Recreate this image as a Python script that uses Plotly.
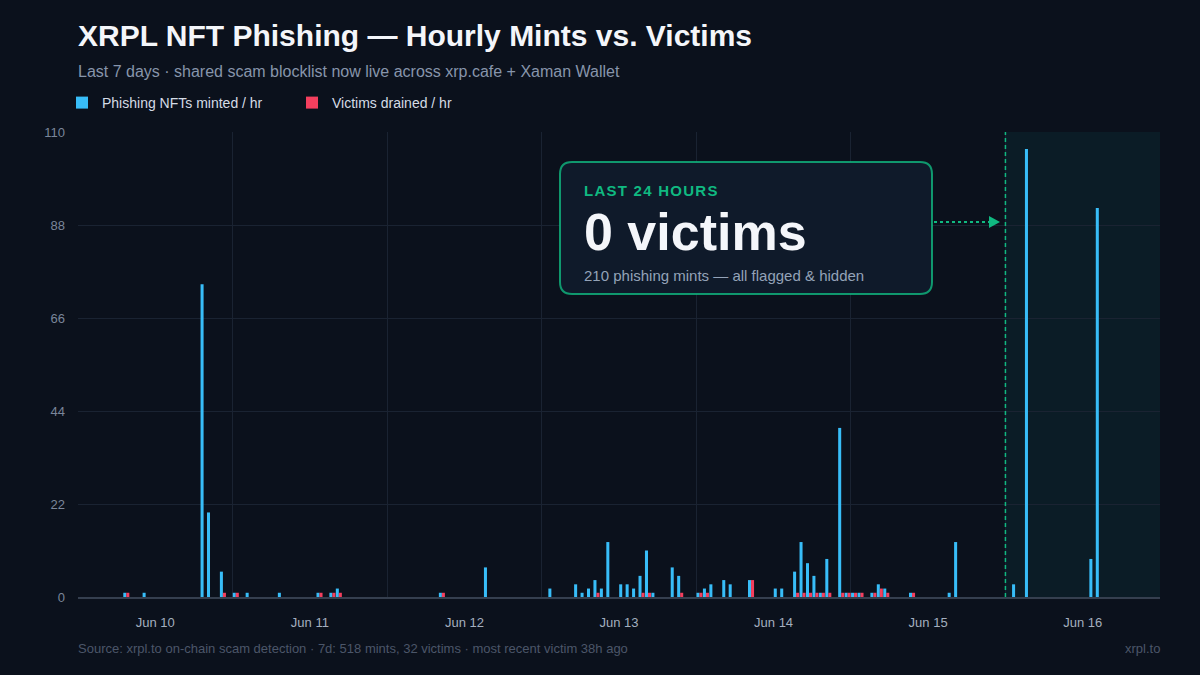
import plotly.graph_objects as go

# ---------------- data (hour index 0 = Jun 10 00:00, 168 hours) ----------------
mint_hours = [7, 10, 19, 20, 22, 24, 26, 31, 37, 39, 40, 56, 63, 73, 77, 78, 79, 80, 81, 82,
              84, 85, 86, 87, 88, 89, 92, 93, 96, 97, 98, 100, 101, 104, 108, 109, 111, 112,
              113, 114, 115, 116, 118, 119, 120, 121, 123, 124, 125, 129, 135, 136,
              145, 147, 157, 158]
mint_counts = [1, 1, 74, 20, 6, 1, 1, 1, 1, 1, 2, 1, 7, 2, 3, 1, 2, 4, 2, 13,
               3, 3, 2, 5, 11, 1, 7, 5, 1, 2, 3, 4, 3, 4, 2, 2, 6, 13,
               8, 5, 1, 9, 40, 1, 1, 1, 1, 3, 2, 1, 1, 13,
               3, 106, 9, 92]
victim_hours = [7, 22, 24, 37, 39, 40, 56, 80, 87, 88, 93, 96, 97, 104, 111, 112, 113, 114,
                115, 116, 118, 119, 120, 121, 123, 124, 125, 129]
victim_counts = [1, 1, 1, 1, 1, 1, 1, 1, 1, 1, 1, 1, 1, 4, 1, 1, 1, 1,
                 1, 1, 1, 1, 1, 1, 1, 2, 1, 1]
day_labels = ["Jun 10", "Jun 11", "Jun 12", "Jun 13", "Jun 14", "Jun 15", "Jun 16"]
y_ticks = [0, 22, 44, 66, 88, 110]
N_HOURS = 168

mints = [0] * N_HOURS
for h, v in zip(mint_hours, mint_counts):
    mints[h] = v
victims = [0] * N_HOURS
for h, v in zip(victim_hours, victim_counts):
    victims[h] = v
x_centers = [h + 0.5 for h in range(N_HOURS)]

# ---------------- styling ----------------
BG = "#0b111c"
GRID = "#1a2332"
BLUE = "#38bdf8"
RED = "#f43f5e"
GREEN = "#10b981"
FONT = "Liberation Sans, Arial, sans-serif"

W, H = 1200, 675
ML, MR, MT, MB = 78, 40, 132, 78
PW, PH = W - ML - MR, H - MT - MB


def px(x):
    return (x - ML) / PW


def py(y):
    return (H - MB - y) / PH


fig = go.Figure()
fig.add_trace(go.Bar(x=x_centers, y=mints, name="Phishing NFTs minted / hr",
                     marker=dict(color=BLUE, line=dict(width=0))))
fig.add_trace(go.Bar(x=x_centers, y=victims, name="Victims drained / hr",
                     marker=dict(color=RED, line=dict(width=0))))

shapes = []
# last 24h shaded band
shapes.append(dict(type="rect", xref="x", yref="paper", x0=144, x1=168, y0=0, y1=1,
                   fillcolor="rgba(20,184,166,0.07)", line=dict(width=0), layer="below"))
# dashed divider
shapes.append(dict(type="line", xref="x", yref="paper", x0=144, x1=144, y0=0, y1=1,
                   line=dict(color=GREEN, width=1.5, dash="4px,3px")))
# rounded callout box
bx0, bx1, by0, by1, r = 560, 932, 162, 294, 12
path = (f"M {px(bx0 + r)},{py(by0)} L {px(bx1 - r)},{py(by0)} "
        f"Q {px(bx1)},{py(by0)} {px(bx1)},{py(by0 + r)} "
        f"L {px(bx1)},{py(by1 - r)} Q {px(bx1)},{py(by1)} {px(bx1 - r)},{py(by1)} "
        f"L {px(bx0 + r)},{py(by1)} Q {px(bx0)},{py(by1)} {px(bx0)},{py(by1 - r)} "
        f"L {px(bx0)},{py(by0 + r)} Q {px(bx0)},{py(by0)} {px(bx0 + r)},{py(by0)} Z")
shapes.append(dict(type="path", xref="paper", yref="paper", path=path,
                   fillcolor="#0f1a2a", line=dict(color="rgba(16,185,129,0.8)", width=2)))
# dotted connector + arrow head
ay = 222
shapes.append(dict(type="line", xref="paper", yref="paper", x0=px(934), x1=px(990),
                   y0=py(ay), y1=py(ay), line=dict(color=GREEN, width=2, dash="dot")))
shapes.append(dict(type="path", xref="paper", yref="paper",
                   path=f"M {px(989)},{py(ay - 6)} L {px(1000)},{py(ay)} L {px(989)},{py(ay + 6)} Z",
                   fillcolor=GREEN, line=dict(width=0)))

hs = "\u200a"
spaced = lambda s: hs.join(list(s))

annotations = [
    dict(text="<b>XRPL NFT Phishing — Hourly Mints vs. Victims</b>", x=px(76), y=py(36),
         xref="paper", yref="paper", xanchor="left", yanchor="middle", showarrow=False,
         font=dict(size=30, color="#f4f6fa", family=FONT)),
    dict(text="Last 7 days · shared scam blocklist now live across xrp.cafe + Xaman Wallet",
         x=px(76), y=py(71), xref="paper", yref="paper", xanchor="left", yanchor="middle",
         showarrow=False, font=dict(size=16, color="#8795ab", family=FONT)),
    dict(text="<b>" + spaced("LAST 24 HOURS") + "</b>", x=px(582), y=py(191),
         xref="paper", yref="paper", xanchor="left", yanchor="middle", showarrow=False,
         font=dict(size=15, color=GREEN, family=FONT)),
    dict(text="<b>0 victims</b>", x=px(582), y=py(232), xref="paper", yref="paper",
         xanchor="left", yanchor="middle", showarrow=False,
         font=dict(size=52, color="#f4f6fa", family=FONT)),
    dict(text="210 phishing mints — all flagged & hidden", x=px(582), y=py(275),
         xref="paper", yref="paper", xanchor="left", yanchor="middle", showarrow=False,
         font=dict(size=15, color="#94a3b8", family=FONT)),
    dict(text="Source: xrpl.to on-chain scam detection · 7d: 518 mints, 32 victims · most recent victim 38h ago",
         x=px(76), y=py(648), xref="paper", yref="paper", xanchor="left", yanchor="middle",
         showarrow=False, font=dict(size=13, color="#4b5669", family=FONT)),
    dict(text="xrpl.to", x=px(1162), y=py(648), xref="paper", yref="paper", xanchor="right",
         yanchor="middle", showarrow=False, font=dict(size=13, color="#4b5669", family=FONT)),
]

fig.update_layout(
    width=W, height=H,
    margin=dict(l=ML, r=MR, t=MT, b=MB, pad=0),
    paper_bgcolor=BG, plot_bgcolor=BG,
    font=dict(family=FONT, color="#cbd5e1"),
    barmode="group", bargap=0.06, bargroupgap=0,
    showlegend=True,
    legend=dict(orientation="h", x=px(62), y=py(103), xanchor="left", yanchor="middle",
                xref="paper", yref="paper", entrywidth=185, entrywidthmode="pixels",
                font=dict(size=14, color="#d5dce6", family=FONT), bgcolor="rgba(0,0,0,0)",
                itemclick=False, itemdoubleclick=False, traceorder="normal"),
    xaxis=dict(range=[0, N_HOURS], tickmode="array",
               tickvals=[12 + 24 * i for i in range(len(day_labels))], ticktext=day_labels,
               showgrid=False, zeroline=False, showline=True, linecolor="#353f4f",
               linewidth=2, ticks="", ticklabelstandoff=12,
               tickfont=dict(size=13, color="#a4afbf", family=FONT),
               minor=dict(tickmode="array", tickvals=[24 * i for i in range(8)],
                          showgrid=True, gridcolor=GRID, gridwidth=1, ticks="")),
    yaxis=dict(range=[0, 110], tickmode="array", tickvals=y_ticks,
               showgrid=True, gridcolor=GRID, gridwidth=1, zeroline=False,
               showline=False, ticks="", ticklabelstandoff=12,
               tickfont=dict(size=13, color="#7a869a", family=FONT)),
    shapes=shapes,
    annotations=annotations,
)

fig.write_html("out.html")
